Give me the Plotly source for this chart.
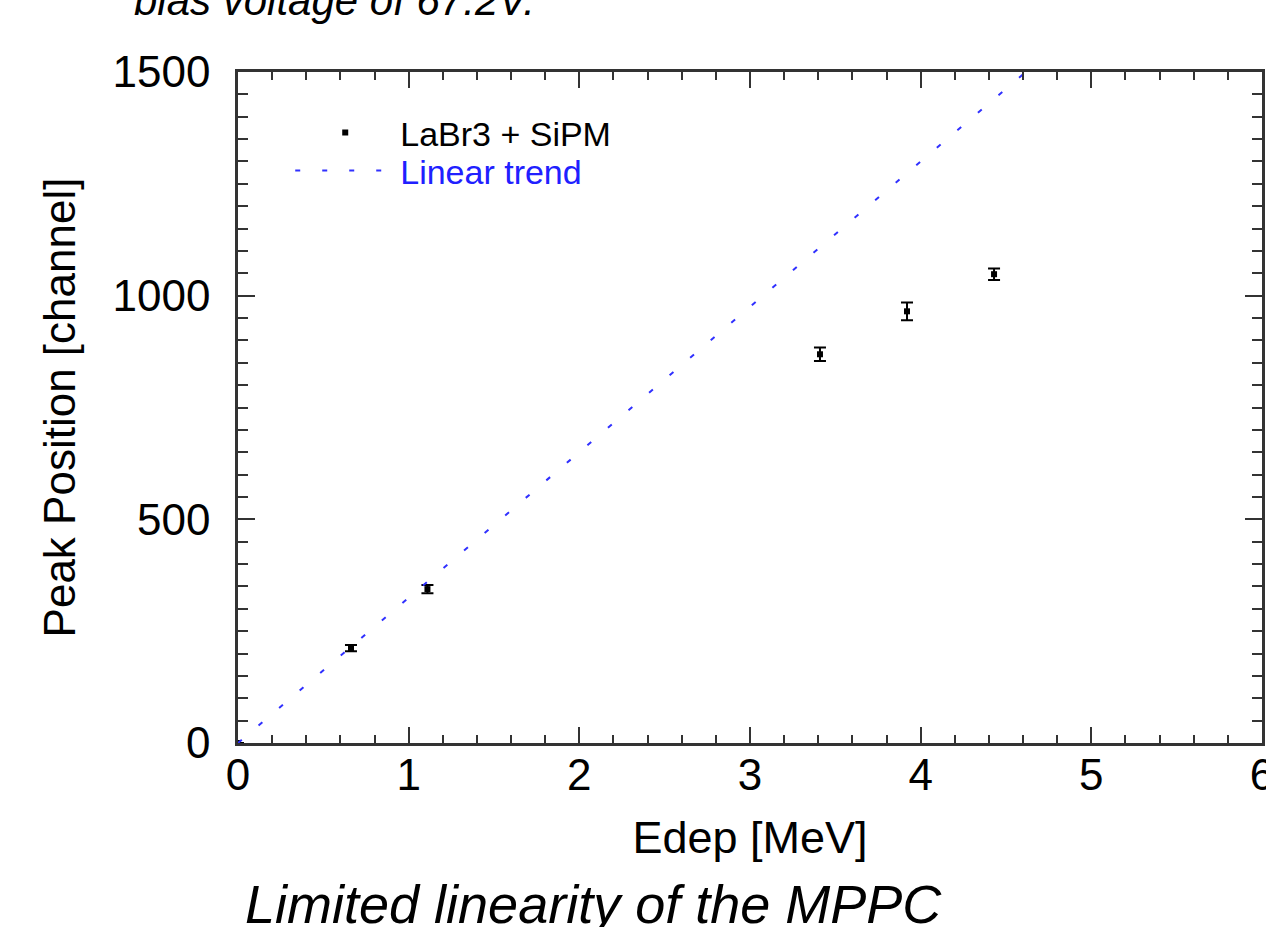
import plotly.graph_objects as go

# Data
edep_mev = [0.0, 0.662, 1.11, 3.41, 3.92, 4.43]
peak_channel = [0, 212, 344, 869, 965, 1048]
peak_err = [0, 7, 9, 15, 20, 13]

trend_slope = 325.0          # channel per MeV
trend_x = [0.0, 6.0]
trend_y = [trend_slope * v for v in trend_x]

x_range = [0, 6]
y_range = [0, 1500]
x_tick_vals = [0, 1, 2, 3, 4, 5, 6]
y_tick_vals = [0, 500, 1000, 1500]

FONT = "Liberation Sans, Arial, sans-serif"
AX = "#333"

fig = go.Figure()

fig.add_trace(go.Scatter(
    x=edep_mev, y=peak_channel, mode="markers", name="LaBr3 + SiPM",
    marker=dict(symbol="square", size=6, color="black"),
    error_y=dict(type="data", array=peak_err, color="black", thickness=2, width=6),
    cliponaxis=False, legend="legend",
))

fig.add_trace(go.Scatter(
    x=trend_x, y=trend_y, mode="lines",
    name="<span style='color:#2020ff'>Linear trend</span>",
    line=dict(color="#3030ff", width=2, dash="5px,22px"),
    legend="legend2",
))

# invisible trace that carries the mirrored (top / right) tick axes
fig.add_trace(go.Scatter(
    x=[None], y=[None], xaxis="x2", yaxis="y2", mode="markers",
    showlegend=False, hoverinfo="skip",
))

line_common = dict(
    showgrid=False, zeroline=False, automargin=False,
    showline=True, linewidth=2.5, linecolor=AX,
    ticks="inside", tickwidth=2, tickcolor=AX,
)
x_minor = dict(dtick=0.2, ticks="inside", ticklen=8, tickwidth=2, tickcolor=AX)
y_minor = dict(dtick=50, ticks="inside", ticklen=10, tickwidth=2, tickcolor=AX)

fig.update_layout(
    xaxis=dict(
        **line_common, ticklen=16, range=x_range, tickvals=x_tick_vals, minor=x_minor,
        tickfont=dict(family=FONT, size=44, color="black"),
        title=dict(text="Edep [MeV]", standoff=24,
                   font=dict(family=FONT, size=45, color="black")),
        ticklabelstandoff=-9, ticklabeloverflow="allow",
    ),
    yaxis=dict(
        **line_common, ticklen=17, range=y_range, tickvals=y_tick_vals, minor=y_minor,
        tickfont=dict(family=FONT, size=44, color="black"),
        title=dict(text="Peak Position [channel]", standoff=24,
                   font=dict(family=FONT, size=44, color="black")),
        ticklabelstandoff=16,
    ),
    xaxis2=dict(
        **line_common, ticklen=16, range=x_range, tickvals=x_tick_vals, minor=x_minor,
        overlaying="x", side="top", anchor="y2", showticklabels=False,
    ),
    yaxis2=dict(
        **line_common, ticklen=17, range=y_range, tickvals=y_tick_vals, minor=y_minor,
        overlaying="y", side="right", anchor="x2", showticklabels=False,
    ),
)

fig.update_layout(
    width=1266, height=927,
    margin=dict(l=238, r=4, t=72, b=184),
    paper_bgcolor="white", plot_bgcolor="white",
    font=dict(family=FONT, color="black"),
    showlegend=True,
    legend=dict(
        x=0.051, y=0.9523, xanchor="left", yanchor="top",
        bgcolor="rgba(0,0,0,0)", borderwidth=0,
        font=dict(family=FONT, size=34, color="black"),
        itemwidth=100,
    ),
    legend2=dict(
        x=0.051, y=0.8957, xanchor="left", yanchor="top",
        bgcolor="rgba(0,0,0,0)", borderwidth=0,
        font=dict(family=FONT, size=34, color="black"),
        itemwidth=100,
    ),
    annotations=[
        dict(text="<i>bias voltage of 67.2V.</i>", xref="paper", yref="paper",
             x=0.094, y=1.107, xanchor="center", yanchor="middle", showarrow=False,
             font=dict(family=FONT, size=42, color="black")),
        dict(text="<i>Limited linearity of the MPPC</i>", xref="paper", yref="paper",
             x=0.347, y=-0.24, xanchor="center", yanchor="middle", showarrow=False,
             font=dict(family=FONT, size=54, color="black")),
    ],
)

fig.write_html(
    "out.html",
    config={"displayModeBar": False},
    post_script="document.body.style.margin='0px'; document.body.style.overflow='hidden';",
)
